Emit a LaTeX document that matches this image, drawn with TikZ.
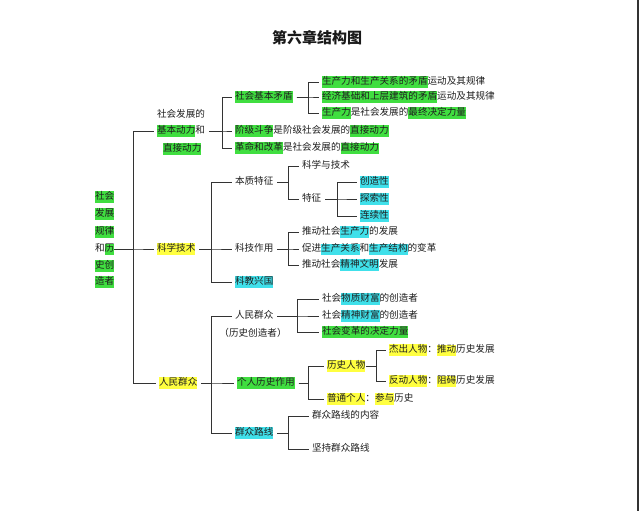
\documentclass[tikz,border=0pt]{standalone}
\usepackage{fontspec}
\newfontfamily\cjk{Noto Sans CJK SC}
\definecolor{hlg}{RGB}{64,222,64}
\definecolor{hly}{RGB}{255,255,64}
\definecolor{hlc}{RGB}{64,224,234}
\setlength{\fboxsep}{0pt}
\newcommand\hs{\rule[-3pt]{0pt}{11pt}}
\newcommand\hG[1]{\colorbox{hlg}{\hs#1}}
\newcommand\hY[1]{\colorbox{hly}{\hs#1}}
\newcommand\hC[1]{\colorbox{hlc}{\hs#1}}
\begin{document}
\begin{tikzpicture}[x=1pt,y=-1pt,
  txt/.style={anchor=west,inner sep=0pt,outer sep=0pt,text=black!88,
    font=\cjk\fontsize{9.6}{11}\selectfont, execute at begin node=\hs},
  ln/.style={draw=black!80, line width=0.8pt, shorten <=4pt, shorten >=3pt}]
\useasboundingbox (0,0) rectangle (640,511);
\fill[white] (0,0) rectangle (640,511);
\draw[line width=1.4pt, black!80] (638,0) -- (638,511);

\node[font=\cjk\bfseries\fontsize{15}{18}\selectfont, text=black!90] (title) at (317,38) {第六章结构图};

% left column
\node[txt] (c1) at (95,197) {\hG{社会}};
\node[txt] (c2) at (95,214) {\hG{发展}};
\node[txt] (c3) at (95,232) {\hG{规律}};
\node[txt] (c4) at (95,249) {和\hG{历}};
\node[txt] (c5) at (95,266) {\hG{史创}};
\node[txt] (c6) at (95,282) {\hG{造者}};

% level 1
\node[txt] (d0) at (157,115) {社会发展的};
\node[txt] (d1) at (157,131) {\hG{基本动力}和};
\node[txt] (d2) at (163,149) {\hG{直接动力}};
\node[txt] (k) at (157,249) {\hY{科学技术}};
\node[txt] (r) at (159,383) {\hY{人民群众}};

\coordinate (b0) at (133,0);
\foreach \c in {d1,k,r} \draw[ln, shorten <=0pt] (c4.east) -- (c4.east -| b0) |- (\c.west);

% top
\coordinate (b1) at (222,0);
\node[txt] (a1) at (235,97) {\hG{社会基本矛盾}};
\node[txt] (a2) at (235,131) {\hG{阶级斗争}是阶级社会发展的\hG{直接动力}};
\node[txt] (a3) at (235,148) {\hG{革命和改革}是社会发展的\hG{直接动力}};
\foreach \c in {a1,a2,a3} \draw[ln] (d1.east) -- (d1.east -| b1) |- (\c.west);

\coordinate (b2) at (308,0);
\node[txt] (e1) at (322,82) {\hG{生产力和生产关系的矛盾}运动及其规律};
\node[txt] (e2) at (322,97) {\hG{经济基础和上层建筑的矛盾}运动及其规律};
\node[txt] (e3) at (322,113) {\hG{生产力}是社会发展的\hG{最终决定力量}};
\foreach \c in {e1,e2,e3} \draw[ln] (a1.east) -- (a1.east -| b2) |- (\c.west);

% middle
\coordinate (b3) at (211,0);
\node[txt] (f1) at (235,182) {本质特征};
\node[txt] (f2) at (235,249) {科技作用};
\node[txt] (f3) at (235,282) {\hC{科教兴国}};
\foreach \c in {f1,f2,f3} \draw[ln] (k.east) -- (k.east -| b3) |- (\c.west);

\coordinate (b4) at (288,0);
\node[txt] (g1) at (302,166) {科学与技术};
\node[txt] (g2) at (302,199) {特征};
\foreach \c in {g1,g2} \draw[ln] (f1.east) -- (f1.east -| b4) |- (\c.west);

\coordinate (b5) at (337,0);
\node[txt] (h1) at (360,182) {\hC{创造性}};
\node[txt] (h2) at (360,199) {\hC{探索性}};
\node[txt] (h3) at (360,216) {\hC{连续性}};
\foreach \c in {h1,h2,h3} \draw[ln] (g2.east) -- (g2.east -| b5) |- (\c.west);

\node[txt] (i1) at (302,232) {推动社会\hC{生产力}的发展};
\node[txt] (i2) at (302,249) {促进\hC{生产关系}和\hC{生产结构}的变革};
\node[txt] (i3) at (302,265) {推动社会\hC{精神文明}发展};
\foreach \c in {i1,i2,i3} \draw[ln] (f2.east) -- (f2.east -| b4) |- (\c.west);

% lower
\node[txt] (m1) at (235,316) {人民群众};
\node[font=\cjk\fontsize{9.6}{11}\selectfont, text=black!88, inner sep=0pt] (m1b) at (253,333) {（历史创造者）};
\node[txt] (m2) at (237,383) {\hG{个人历史作用}};
\node[txt] (m3) at (235,433) {\hC{群众路线}};
\foreach \c in {m1,m2,m3} \draw[ln] (r.east) -- (r.east -| b3) |- (\c.west);

\coordinate (b6) at (297,0);
\node[txt] (n1) at (322,299) {社会\hC{物质财富}的创造者};
\node[txt] (n2) at (322,316) {社会\hC{精神财富}的创造者};
\node[txt] (n3) at (322,332) {\hG{社会变革的决定力量}};
\foreach \c in {n1,n2,n3} \draw[ln] (m1.east) -- (m1.east -| b6) |- (\c.west);

\node[txt] (p1) at (327,366) {\hY{历史人物}};
\node[txt] (p2) at (327,399) {\hY{普通个人}：\hY{参与}历史};
\foreach \c in {p1,p2} \draw[ln] (m2.east) -- (m2.east -| b2) |- (\c.west);

\coordinate (b8) at (376,0);
\node[txt] (q1) at (389,350) {\hY{杰出人物}：\hY{推动}历史发展};
\node[txt] (q2) at (389,381) {\hY{反动人物}：\hY{阻碍}历史发展};
\foreach \c in {q1,q2} \draw[ln, shorten <=1pt] (p1.east) -- (p1.east -| b8) |- (\c.west);

\node[txt] (s1) at (312,416) {群众路线的内容};
\node[txt] (s2) at (312,449) {坚持群众路线};
\foreach \c in {s1,s2} \draw[ln] (m3.east) -- (m3.east -| b4) |- (\c.west);
\end{tikzpicture}
\end{document}
